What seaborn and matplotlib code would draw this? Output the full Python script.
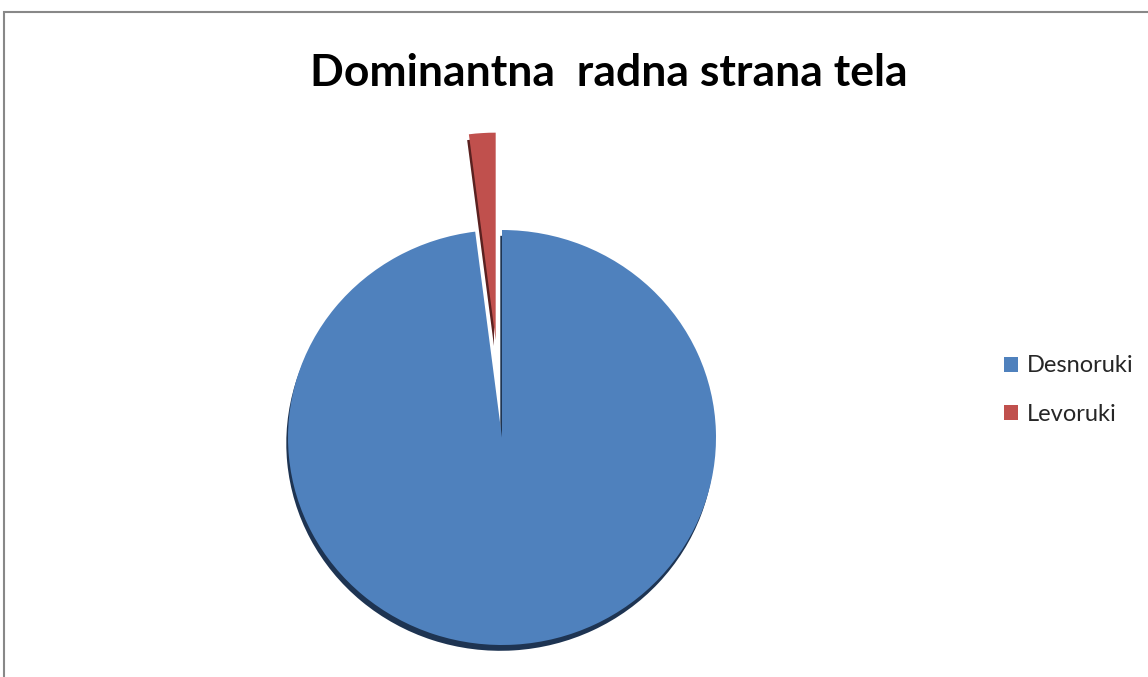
import matplotlib
matplotlib.use("Agg")
import matplotlib.pyplot as plt
import matplotlib.patches as mpatches
import seaborn as sns

# data
labels = ["Desnoruki", "Levoruki"]
values = [98, 2]
colors = ["#4F81BD", "#C0504D"]
shadow_colors = ["#1E3452", "#5A2120"]

sns.set_theme(style="white")
plt.rcParams['font.family'] = ['Lato', 'DejaVu Sans']

W, H = 1148, 677
fig = plt.figure(figsize=(W / 100, H / 100), dpi=100)

# pie axes: center (502, 437) px, radii 214 x 207 px (slightly tilted look), limits +-1.5
Rx, Ry = 214, 207.5
cx, cy = 502, 437.5
ax = fig.add_axes([(cx - 1.5 * Rx) / W, (H - cy - 1.5 * Ry) / H, 3 * Rx / W, 3 * Ry / H])

explode = [0, 0.47]
# dark copy underneath for the 3D edge
ax.pie(values, colors=shadow_colors, startangle=90, counterclock=False,
       explode=explode, center=(-0.008, -0.028), wedgeprops={'linewidth': 0})
wedges, _ = ax.pie(values, colors=colors, startangle=90, counterclock=False,
                   explode=explode, wedgeprops={'linewidth': 0})
ax.set_xlim(-1.5, 1.5)
ax.set_ylim(-1.5, 1.5)
ax.set_aspect('auto')
ax.axis('off')

fig.text(609 / W, 1 - 73 / H, "Dominantna  radna strana tela", ha='center', va='center',
         fontsize=32, fontweight='bold', color='black')

fig.legend(wedges, labels, loc='center left', bbox_to_anchor=(1004 / W, 1 - 390 / H),
           frameon=False, fontsize=17, handlelength=0.6, handleheight=0.6,
           handletextpad=0.35, labelspacing=1.15, borderpad=0, borderaxespad=0)

# outer frame (cut off on the right and bottom)
fig.patches.append(mpatches.Rectangle((4 / W, -0.1), 1.2, 1 - 12 / H + 0.1,
                                      transform=fig.transFigure, fill=False,
                                      edgecolor='#888888', linewidth=1.5))

fig.savefig("out.png", dpi=100)
